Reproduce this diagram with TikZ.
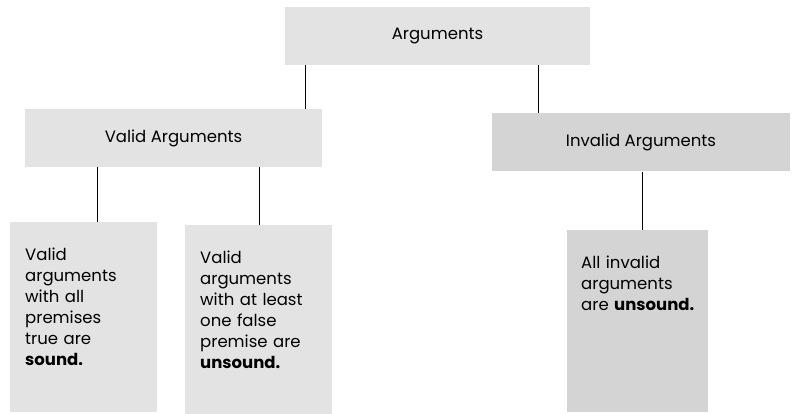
\documentclass[tikz,border=0pt]{standalone}
\usepackage{fontspec}
\setmainfont{Poppins}
\usepackage{xcolor}
\usepackage{tikz}
\definecolor{stiplight}{gray}{0.89}
\definecolor{stipdark}{gray}{0.83}

\begin{document}
\begin{tikzpicture}[x=1pt,y=-1pt,
  topbox/.style={fill=stiplight, minimum height=58pt, inner sep=0pt, font=\fontsize{16.5}{21}\selectfont},
  leafbox/.style={fill=stiplight, anchor=north west, align=left, text width=117pt, inner xsep=15pt, inner ysep=26pt, font=\fontsize{16.5}{21}\selectfont},
  link/.style={line width=1pt}]
\useasboundingbox (0,0) rectangle (795,414);
\node[topbox, minimum width=305pt] (args) at (437.5,36) {Arguments};
\node[topbox, minimum width=297pt] (valid) at (173.5,138) {Valid Arguments};
\node[topbox, minimum width=298pt, fill=stipdark] (invalid) at (641,142.5) {Invalid Arguments};
\node[leafbox, text depth=125pt] (sound) at (10,222) {Valid\\arguments\\with all\\premises\\true are\\\textbf{sound.}};
\node[leafbox, text depth=125pt] (unsoundA) at (185,225) {Valid\\arguments\\with at least\\one false\\premise are\\\textbf{unsound.}};
\node[leafbox, text width=113pt, inner xsep=14pt, text depth=117pt, fill=stipdark] (unsoundB) at (567,230) {All invalid\\arguments\\\mbox{are \textbf{unsound.}}};
\draw[link] (args.south -| 305,0) -- (valid.north -| 305,0);
\draw[link] (args.south -| 538,0) -- (invalid.north -| 538,0);
\draw[link] (valid.south -| 97,0) -- (sound.north -| 97,0);
\draw[link] (valid.south -| 259,0) -- (unsoundA.north -| 259,0);
\draw[link] (invalid.south -| 642,0) -- (unsoundB.north -| 642,0);
\end{tikzpicture}
\end{document}
